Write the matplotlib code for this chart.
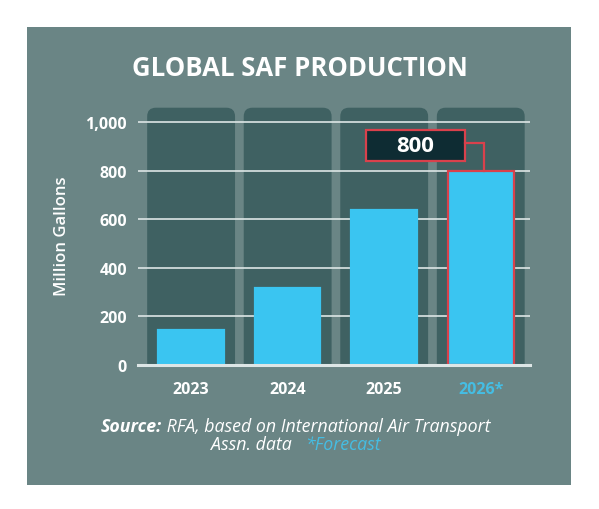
import matplotlib.pyplot as plt
from matplotlib.patches import FancyBboxPatch, Rectangle

# --- data ---
years = ["2023", "2024", "2025", "2026*"]
gallons = [145, 318, 637, 800]          # million gallons
forecast = [False, False, False, True]
yticks = [0, 200, 400, 600, 800, 1000]
ytick_labels = ["0", "200", "400", "600", "800", "1,000"]
callout_value = "800"

# --- colours ---
PANEL = "#6a8585"
COLUMN = "#3f6162"
BAR = "#3ac5f1"
GRID = "#dde6e6"
RED = "#d9414c"
CYAN = "#45bde3"
BOX = "#0e2c33"

plt.rcParams['font.family'] = ['Open Sans', 'DejaVu Sans']

fig = plt.figure(figsize=(5.99, 5.10), dpi=100)
fig.patch.set_facecolor("white")

# grey card behind everything
fig.patches.append(Rectangle((27 / 599, 1 - 486 / 510), (571 - 27) / 599, (486 - 28) / 510,
                             transform=fig.transFigure, facecolor=PANEL, edgecolor="none", zorder=-5))

ax = fig.add_axes([0.2304, 0.283, 0.6544, 0.5086])
ax.set_zorder(3)
ax.set_facecolor("none")
ax.set_xlim(-0.55, 3.51)
ax.set_ylim(0, 1070)

x = list(range(len(years)))

# dark rounded columns behind each bar
for xi in x:
    col = FancyBboxPatch((xi - 0.455, -200), 0.91, 1260,
                         boxstyle="round,pad=0,rounding_size=0.09",
                         mutation_aspect=398, facecolor=COLUMN, edgecolor="none", zorder=1)
    ax.add_patch(col)

# gridlines
for t in yticks[1:]:
    ax.axhline(t, color=GRID, linewidth=1.2, zorder=2)
ax.axhline(0, color=GRID, linewidth=2.2, zorder=5, clip_on=False)

edge = [RED if f else BAR for f in forecast]
ax.bar(x, gallons, width=0.68, color=BAR, edgecolor=edge, linewidth=1.6, zorder=3)

# callout for forecast value
fi = forecast.index(True)
ax.add_patch(Rectangle((fi - 1.19, 842), 1.03, 128, facecolor=BOX, edgecolor=RED,
                       linewidth=1.6, zorder=6))
ax.text(fi - 0.675, 906, callout_value, color="white", fontsize=16, fontweight="bold",
        ha="center", va="center", zorder=7)
ax.plot([fi - 0.16, fi + 0.03, fi + 0.03], [913, 913, gallons[fi]], color=RED,
        linewidth=1.6, zorder=6, solid_joinstyle="miter")

for s in ax.spines.values():
    s.set_visible(False)
ax.tick_params(length=0)
ax.set_yticks(yticks)
ax.set_yticklabels(ytick_labels, color="white", fontsize=11.5, fontweight="bold")
ax.tick_params(axis="y", pad=8)
ax.set_xticks(x)
ax.set_xticklabels(years, fontsize=11.5, fontweight="bold")
ax.tick_params(axis="x", pad=12)
for lab, f in zip(ax.get_xticklabels(), forecast):
    lab.set_color(CYAN if f else "white")

ax.set_ylabel("Million Gallons", color="white", fontsize=12, fontweight="semibold", labelpad=11)

fig.text(0.5, 1 - 68 / 510, "GLOBAL SAF PRODUCTION", color="white", fontsize=18.5,
         fontweight="bold", ha="center", va="center")

# source note, pieces placed side by side and centred as a line
renderer = fig.canvas.get_renderer()
inv = fig.transFigure.inverted()
cx = 296 / 599


def centred_line(y, parts):
    texts = [fig.text(0, y, s, ha="left", va="center", style="italic", fontsize=12.8, **kw)
             for s, kw in parts]
    widths = [inv.transform((t.get_window_extent(renderer).width, 0))[0]
              - inv.transform((0, 0))[0] for t in texts]
    x0 = cx - sum(widths) / 2
    for t, w in zip(texts, widths):
        t.set_x(x0)
        x0 += w


centred_line(1 - 427 / 510, [("Source:", dict(color="white", fontweight="bold")),
                             (" RFA, based on International Air Transport", dict(color="white"))])
centred_line(1 - 445 / 510, [("Assn. data   ", dict(color="white")),
                             ("*Forecast", dict(color=CYAN))])

fig.savefig("out.png", dpi=100, facecolor="white")
